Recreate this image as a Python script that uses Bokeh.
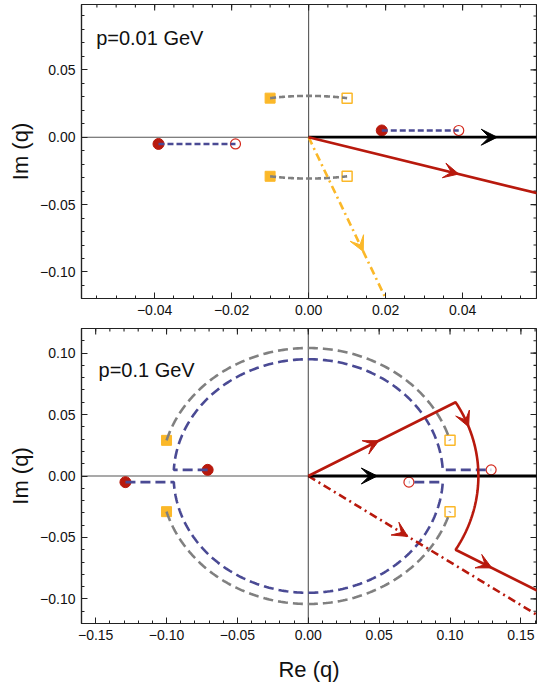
import numpy as np
from bokeh.plotting import figure
from bokeh.layouts import column
from bokeh.models import Range1d, FixedTicker, LinearAxis, Span, Arrow, VeeHead, Label
from bokeh.embed import file_html
from bokeh.resources import INLINE

# ---------------- data ----------------
# panel 1 : p = 0.01 GeV
p1_label = "p=0.01 GeV"
p1_label_pos = (-0.0552, 0.074)
p1_xrange = (-0.0590, 0.0592)
p1_yrange = (-0.1197, 0.0985)
p1_xticks = [-0.04, -0.02, 0.0, 0.02, 0.04]
p1_xtick_labels = ["\u22120.04", "\u22120.02", "0.00", "0.02", "0.04"]
p1_xminor_step = 0.005
p1_yticks = [-0.10, -0.05, 0.0, 0.05]
p1_ytick_labels = ["\u22120.10", "\u22120.05", "0.00", "0.05"]
p1_yminor_step = 0.01
p1_pole_filled_re = [-0.039, 0.019]
p1_pole_filled_im = [-0.005, 0.005]
p1_pole_open_re = [-0.019, 0.039]
p1_pole_open_im = [-0.005, 0.005]
p1_sq_filled_re = [-0.010, -0.010]
p1_sq_filled_im = [0.029, -0.029]
p1_sq_open_re = [0.010, 0.010]
p1_sq_open_im = [0.029, -0.029]
p1_contour_angle = -35.0      # red solid ray (deg)
p1_rotated_angle = -80.5      # orange dash-dot ray (deg)
p1_arrow_real = 0.049         # black arrow tip on the real axis
p1_arrow_contour_r = 0.0476   # red arrow tip distance
p1_arrow_rotated_r = 0.086    # orange arrow tip distance

# panel 2 : p = 0.1 GeV
p2_label = "p=0.1 GeV"
p2_label_pos = (-0.148, 0.086)
p2_xrange = (-0.160, 0.161)
p2_yrange = (-0.120, 0.120)
p2_xticks = [-0.15, -0.10, -0.05, 0.0, 0.05, 0.10, 0.15]
p2_xtick_labels = ["\u22120.15", "\u22120.10", "\u22120.05", "0.00", "0.05", "0.10", "0.15"]
p2_xminor_step = 0.01
p2_yticks = [-0.10, -0.05, 0.0, 0.05, 0.10]
p2_ytick_labels = ["\u22120.10", "\u22120.05", "0.00", "0.05", "0.10"]
p2_yminor_step = 0.01
p2_pole_filled_re = [-0.129, -0.071]
p2_pole_filled_im = [-0.005, 0.005]
p2_pole_open_re = [0.071, 0.129]
p2_pole_open_im = [-0.005, 0.005]
p2_sq_filled_re = [-0.100, -0.100]
p2_sq_filled_im = [0.029, -0.029]
p2_sq_open_re = [0.100, 0.100]
p2_sq_open_im = [0.029, -0.029]
p2_blue_radius = 0.095
p2_contour_radius = 0.12
p2_contour_angle = 30.0
p2_rotated_angle = -35.0
p2_arrow_real = 0.0487
p2_arrow_seg1_r = 0.0575
p2_arrow_arc_angle = 19.5
p2_arrow_seg3_r = 0.1495
p2_arrow_rotated_r = 0.0857

# ---------------- style ----------------
RED = "#B8190D"
RED_OPEN = "#D42A1E"
BLUE = "#4A4A94"
GRAY = "#808080"
ORANGE = "#FBB829"
FRAME = "#222222"
FONT = "Liberation Sans"
FAR = 0.5


def arc(r, a0, a1, n=160):
    t = np.linspace(np.radians(a0), np.radians(a1), n)
    return list(r * np.cos(t)), list(r * np.sin(t))


def ray(angle, r0=0.0, r1=FAR):
    a = np.radians(angle)
    return [r0 * np.cos(a), r1 * np.cos(a)], [r0 * np.sin(a), r1 * np.sin(a)]


def minor_ticks(step):
    return list(np.round(np.arange(-0.2, 0.2001, step), 4))


def make_fig(height, top_b, bottom_b, xr, yr, xt, xl, xstep, yt, yl, ystep, xlabel):
    p = figure(width=537, height=height, x_range=Range1d(*xr), y_range=Range1d(*yr),
               output_backend="svg", toolbar_location=None,
               x_axis_location=None, y_axis_location=None,
               min_border_left=81, min_border_right=1,
               min_border_top=top_b, min_border_bottom=bottom_b)
    p.grid.grid_line_color = None
    p.outline_line_color = FRAME
    p.outline_line_width = 1.2
    p.background_fill_color = "white"
    p.border_fill_color = "white"

    xminor = minor_ticks(xstep)
    yminor = minor_ticks(ystep)

    def style(ax):
        ax.major_tick_in = 6
        ax.major_tick_out = 0
        ax.minor_tick_in = 3
        ax.minor_tick_out = 0
        ax.major_tick_line_color = FRAME
        ax.minor_tick_line_color = FRAME
        ax.axis_line_color = FRAME
        ax.axis_line_width = 1.2
        ax.major_label_text_font = FONT
        ax.major_label_text_font_size = "14px"
        ax.major_label_text_color = "#111111"
        ax.major_label_standoff = 6
        ax.axis_label_text_font = FONT
        ax.axis_label_text_font_size = "22px"
        ax.axis_label_text_font_style = "normal"
        ax.axis_label_text_color = "#111111"

    xb = LinearAxis(ticker=FixedTicker(ticks=xt, minor_ticks=xminor),
                    major_label_overrides=dict(zip(xt, xl)))
    style(xb)
    if xlabel:
        xb.axis_label = xlabel
        xb.axis_label_standoff = 14
    yl_ax = LinearAxis(ticker=FixedTicker(ticks=yt, minor_ticks=yminor),
                       major_label_overrides=dict(zip(yt, yl)), axis_label="Im (q)")
    style(yl_ax)
    yl_ax.axis_label_standoff = 4
    p.add_layout(xb, "below")
    p.add_layout(yl_ax, "left")

    # frame ticks on the top and right edges (half of each dash is clipped by the frame)
    xm = [v for v in xminor if xr[0] < v < xr[1]]
    ym = [v for v in yminor if yr[0] < v < yr[1]]
    p.scatter(xt, [yr[1]] * len(xt), marker="dash", size=12, angle=np.pi / 2,
              line_color=FRAME, line_width=1.1)
    p.scatter(xm, [yr[1]] * len(xm), marker="dash", size=6, angle=np.pi / 2,
              line_color=FRAME, line_width=1.1)
    p.scatter([xr[1]] * len(yt), yt, marker="dash", size=12,
              line_color=FRAME, line_width=1.1)
    p.scatter([xr[1]] * len(ym), ym, marker="dash", size=6,
              line_color=FRAME, line_width=1.1)

    p.add_layout(Span(location=0, dimension="width", line_color="#555555", line_width=1.1, level="underlay"))
    p.add_layout(Span(location=0, dimension="height", line_color="#555555", line_width=1.1, level="underlay"))
    return p


def add_arrow(p, color, x0, y0, x1, y1, size=15):
    p.add_layout(Arrow(end=VeeHead(size=size, fill_color=color, line_color=color, line_width=1),
                       x_start=x0, y_start=y0, x_end=x1, y_end=y1,
                       line_alpha=0.0, line_width=0))


def arrow_on_ray(p, color, angle, r, size=15):
    a = np.radians(angle)
    add_arrow(p, color, (r - 0.005) * np.cos(a), (r - 0.005) * np.sin(a),
              r * np.cos(a), r * np.sin(a), size)


def draw_markers(p, fr, fi, orr, oi, sfr, sfi, sor, soi):
    p.scatter(sfr, sfi, marker="square", size=10, fill_color=ORANGE, line_color=ORANGE)
    p.scatter(sor, soi, marker="square", size=10, fill_color=None, line_color=ORANGE, line_width=1.5)
    p.scatter(fr, fi, marker="circle", size=11, fill_color=RED, line_color=RED)
    p.scatter(orr, oi, marker="circle", size=10, fill_color=None, line_color=RED_OPEN, line_width=1.2)


def gray_arcs(p, sfr, sfi, sor, soi, dash):
    for a, b, c, d in zip(sfr, sfi, sor, soi):
        r = np.hypot(a, b)
        xs, ys = arc(r, np.degrees(np.arctan2(b, a)), np.degrees(np.arctan2(d, c)))
        p.line(xs, ys, line_color=GRAY, line_width=2.6, line_dash=dash)


# ---------------- panel 1 ----------------
p1 = make_fig(322, 4, 24, p1_xrange, p1_yrange, p1_xticks, p1_xtick_labels, p1_xminor_step,
              p1_yticks, p1_ytick_labels, p1_yminor_step, None)
draw_markers(p1, p1_pole_filled_re, p1_pole_filled_im, p1_pole_open_re, p1_pole_open_im,
             p1_sq_filled_re, p1_sq_filled_im, p1_sq_open_re, p1_sq_open_im)
gray_arcs(p1, p1_sq_filled_re, p1_sq_filled_im, p1_sq_open_re, p1_sq_open_im, "6 3")
for a, b, c, d in zip(p1_pole_filled_re, p1_pole_filled_im, p1_pole_open_re, p1_pole_open_im):
    p1.line([a, c], [b, d], line_color=BLUE, line_width=2.6, line_dash="6 3")
xs, ys = ray(p1_rotated_angle)
p1.line(xs, ys, line_color=ORANGE, line_width=2.6, line_dash="8 4 2 4")
p1.line([0, FAR], [0, 0], line_color="black", line_width=2.8)
xs, ys = ray(p1_contour_angle)
p1.line(xs, ys, line_color=RED, line_width=2.6)
add_arrow(p1, "black", p1_arrow_real - 0.002, 0, p1_arrow_real, 0, 16)
arrow_on_ray(p1, RED, p1_contour_angle, p1_arrow_contour_r)
arrow_on_ray(p1, ORANGE, p1_rotated_angle, p1_arrow_rotated_r)
p1.add_layout(Label(x=p1_label_pos[0], y=p1_label_pos[1], text=p1_label,
                    text_font=FONT, text_font_size="20px", text_baseline="alphabetic",
                    text_color="#111111"))

# ---------------- panel 2 ----------------
p2 = make_fig(366, 6, 65, p2_xrange, p2_yrange, p2_xticks, p2_xtick_labels, p2_xminor_step,
              p2_yticks, p2_ytick_labels, p2_yminor_step, "Re (q)")
draw_markers(p2, p2_pole_filled_re, p2_pole_filled_im, p2_pole_open_re, p2_pole_open_im,
             p2_sq_filled_re, p2_sq_filled_im, p2_sq_open_re, p2_sq_open_im)
gray_arcs(p2, p2_sq_filled_re, p2_sq_filled_im, p2_sq_open_re, p2_sq_open_im, "10 5")
R = p2_blue_radius
for a, b, c, d in zip(p2_pole_filled_re, p2_pole_filled_im, p2_pole_open_re, p2_pole_open_im):
    s = np.sign(b)
    alpha = np.degrees(np.arcsin(abs(b) / R))
    xs, ys = arc(R, s * (180 - alpha), s * alpha)
    p2.line([a] + xs + [c], [b] + ys + [d], line_color=BLUE, line_width=2.6, line_dash="10 5")
xs, ys = ray(p2_rotated_angle)
p2.line(xs, ys, line_color=RED, line_width=2.6, line_dash="8 4 2 4")
p2.line([0, FAR], [0, 0], line_color="black", line_width=2.8)
ca = p2_contour_angle
axs, ays = arc(p2_contour_radius, ca, -ca)
rxs, rys = ray(-ca, p2_contour_radius, FAR)
p2.line([0] + axs + rxs, [0] + ays + rys, line_color=RED, line_width=2.6)
add_arrow(p2, "black", p2_arrow_real - 0.004, 0, p2_arrow_real, 0, 16)
arrow_on_ray(p2, RED, ca, p2_arrow_seg1_r)
arrow_on_ray(p2, RED, -ca, p2_arrow_seg3_r)
arrow_on_ray(p2, RED, p2_rotated_angle, p2_arrow_rotated_r)
t0 = np.radians(p2_arrow_arc_angle + 3)
t1 = np.radians(p2_arrow_arc_angle)
add_arrow(p2, RED, p2_contour_radius * np.cos(t0), p2_contour_radius * np.sin(t0),
          p2_contour_radius * np.cos(t1), p2_contour_radius * np.sin(t1))
p2.add_layout(Label(x=p2_label_pos[0], y=p2_label_pos[1], text=p2_label,
                    text_font=FONT, text_font_size="20px", text_baseline="alphabetic",
                    text_color="#111111"))

layout = column(p1, p2, spacing=0)
open("out.html", "w").write(file_html(layout, INLINE))
